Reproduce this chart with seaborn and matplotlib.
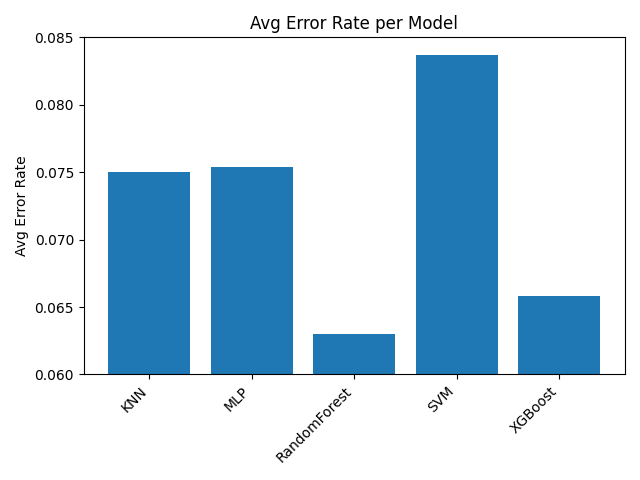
import matplotlib
matplotlib.use("Agg")
import matplotlib.pyplot as plt
import seaborn as sns
import pandas as pd

models = ["KNN", "MLP", "RandomForest", "SVM", "XGBoost"]
error_rates = [0.0750, 0.0754, 0.0630, 0.0837, 0.0658]

df = pd.DataFrame({"Model": models, "Avg Error Rate": error_rates})

fig, ax = plt.subplots(figsize=(6.4, 4.8), dpi=100)
sns.barplot(data=df, x="Model", y="Avg Error Rate", color="#1f77b4",
            saturation=1, width=0.8, ax=ax)
ax.set_ylim(0.060, 0.085)
ax.set_xlim(-0.64, 4.64)
ax.set_title("Avg Error Rate per Model")
ax.set_xlabel("")
ax.set_ylabel("Avg Error Rate")
plt.setp(ax.get_xticklabels(), rotation=45, ha="right")
fig.tight_layout()
fig.savefig("out.png", dpi=100)
